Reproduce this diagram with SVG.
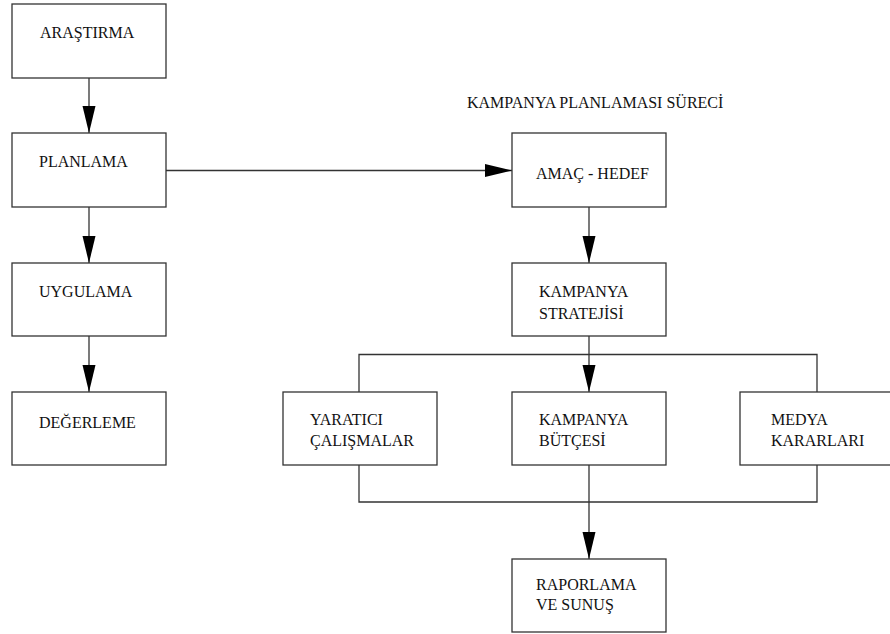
<svg xmlns="http://www.w3.org/2000/svg" width="890" height="634" viewBox="0 0 890 634">
<style>
.box{fill:#fff;stroke:#333;stroke-width:1.3}
.lbl{font-size:16px;fill:#111}
.ln{fill:none;stroke:#333;stroke-width:1.3}
</style>
<defs>
<marker id="ah" markerUnits="userSpaceOnUse" markerWidth="28" markerHeight="14" refX="27" refY="6.5" orient="auto">
<path d="M0,0 L27,6.5 L0,13 z" fill="#000"/>
</marker>
</defs>
<rect width="890" height="634" fill="#fff"/>
<g id="connectors">
<line class="ln" x1="89" y1="78" x2="89" y2="133" marker-end="url(#ah)"/>
<line class="ln" x1="89" y1="207" x2="89" y2="263" marker-end="url(#ah)"/>
<line class="ln" x1="89" y1="336" x2="89" y2="392" marker-end="url(#ah)"/>
<line class="ln" x1="166" y1="170.5" x2="512" y2="170.5" marker-end="url(#ah)"/>
<line class="ln" x1="589" y1="207" x2="589" y2="263" marker-end="url(#ah)"/>
<line class="ln" x1="589" y1="336" x2="589" y2="392" marker-end="url(#ah)"/>
<polyline class="ln" points="359,392 359,354.5 817,354.5 817,392"/>
<polyline class="ln" points="359,465 359,502 817,502 817,465"/>
<line class="ln" x1="589" y1="465" x2="589" y2="559" marker-end="url(#ah)"/>
</g>
<g font-family="'Liberation Serif', 'Times New Roman', 'DejaVu Serif', serif">
<g id="title"><text class="lbl" x="467" y="108">KAMPANYA PLANLAMASI SÜRECİ</text></g>
<g id="arastirma"><rect class="box" x="12" y="4" width="154" height="74"/><text class="lbl" x="40" y="38">ARAŞTIRMA</text></g>
<g id="planlama"><rect class="box" x="12" y="133" width="154" height="74"/><text class="lbl" x="39" y="167">PLANLAMA</text></g>
<g id="uygulama"><rect class="box" x="12" y="263" width="154" height="73"/><text class="lbl" x="39" y="297">UYGULAMA</text></g>
<g id="degerleme"><rect class="box" x="12" y="392" width="154" height="73"/><text class="lbl" x="39" y="428">DEĞERLEME</text></g>
<g id="amac"><rect class="box" x="512" y="133" width="154" height="74"/><text class="lbl" x="536" y="179">AMAÇ - HEDEF</text></g>
<g id="strateji"><rect class="box" x="512" y="263" width="154" height="73"/><text class="lbl" x="539" y="297">KAMPANYA</text><text class="lbl" x="539" y="319">STRATEJİSİ</text></g>
<g id="yaratici"><rect class="box" x="283" y="392" width="154" height="73"/><text class="lbl" x="310" y="425">YARATICI</text><text class="lbl" x="310" y="446">ÇALIŞMALAR</text></g>
<g id="butce"><rect class="box" x="512" y="392" width="154" height="73"/><text class="lbl" x="539" y="425">KAMPANYA</text><text class="lbl" x="539" y="446">BÜTÇESİ</text></g>
<g id="medya"><rect class="box" x="740" y="392" width="154" height="73"/><text class="lbl" x="771" y="425">MEDYA</text><text class="lbl" x="771" y="446">KARARLARI</text></g>
<g id="rapor"><rect class="box" x="512" y="559" width="154" height="73"/><text class="lbl" x="536" y="590">RAPORLAMA</text><text class="lbl" x="536" y="610">VE SUNUŞ</text></g>
</g>
</svg>
